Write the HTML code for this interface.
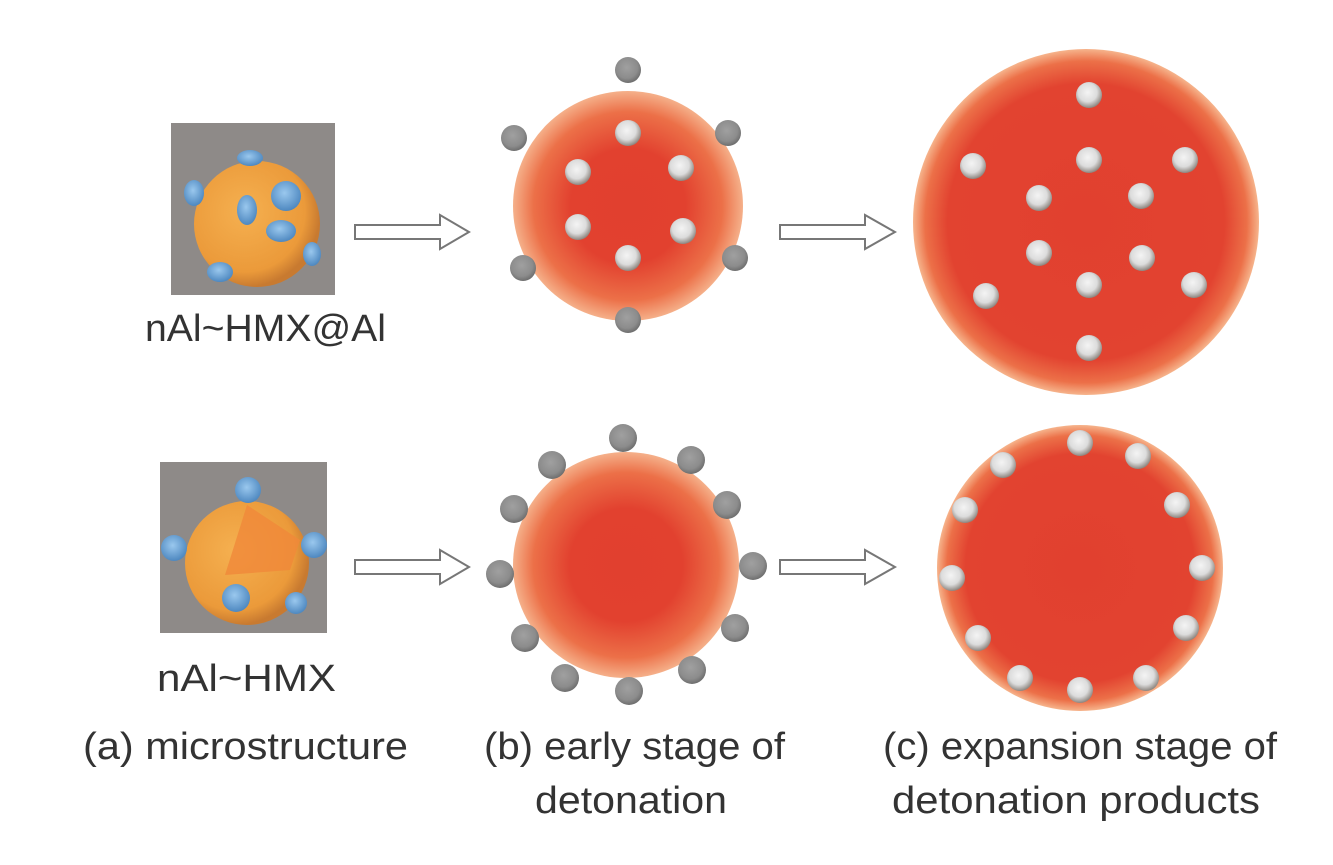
<!DOCTYPE html>
<html><head><meta charset="utf-8"><style>html,body{margin:0;padding:0;background:#fff}svg{display:block}</style></head><body>
<svg width="1333" height="865" viewBox="0 0 1333 865" xmlns="http://www.w3.org/2000/svg">
<defs>
<radialGradient id="rb" cx="50%" cy="50%" r="50%">
<stop offset="0" stop-color="#e1402f"/><stop offset="0.5" stop-color="#e2412f"/><stop offset="0.82" stop-color="#ec7048"/><stop offset="1" stop-color="#f5b08a"/>
</radialGradient>
<radialGradient id="rc" cx="50%" cy="50%" r="50%">
<stop offset="0" stop-color="#e1402f"/><stop offset="0.8" stop-color="#e24330"/><stop offset="0.93" stop-color="#ec7048"/><stop offset="1" stop-color="#f6b48c"/>
</radialGradient>
<radialGradient id="wp" cx="45%" cy="40%" r="60%">
<stop offset="0" stop-color="#f4f4f4"/><stop offset="0.6" stop-color="#dcdcdc"/><stop offset="1" stop-color="#8d8680"/>
</radialGradient>
<radialGradient id="gp" cx="45%" cy="40%" r="60%">
<stop offset="0" stop-color="#a0a0a0"/><stop offset="0.7" stop-color="#8c8c8c"/><stop offset="1" stop-color="#6e6e6e"/>
</radialGradient>
<radialGradient id="or" cx="40%" cy="40%" r="60%">
<stop offset="0" stop-color="#f5b050"/><stop offset="0.8" stop-color="#eb9a3a"/><stop offset="1" stop-color="#c87a30"/>
</radialGradient>
<radialGradient id="bl" cx="45%" cy="40%" r="60%">
<stop offset="0" stop-color="#9ac8ee"/><stop offset="1" stop-color="#4e88c0"/>
</radialGradient>
</defs>

<rect x="171" y="123" width="164" height="172" fill="#8e8a88"/>
<circle cx="257" cy="224" r="63" fill="url(#or)"/>
<g fill="url(#bl)">
<ellipse cx="250" cy="158" rx="13" ry="8"/>
<ellipse cx="194" cy="193" rx="10" ry="13"/>
<ellipse cx="286" cy="196" rx="15" ry="15"/>
<ellipse cx="247" cy="210" rx="10" ry="15"/>
<ellipse cx="281" cy="231" rx="15" ry="11"/>
<ellipse cx="312" cy="254" rx="9" ry="12"/>
<ellipse cx="220" cy="272" rx="13" ry="10"/>
</g>

<rect x="160" y="462" width="167" height="171" fill="#8e8a88"/>
<circle cx="247" cy="563" r="62" fill="url(#or)"/>
<polygon points="247,505 300,540 290,570 225,575" fill="#f0883a" opacity="0.8"/>
<g fill="url(#bl)">
<circle cx="248" cy="490" r="13"/>
<circle cx="174" cy="548" r="13"/>
<circle cx="314" cy="545" r="13"/>
<circle cx="236" cy="598" r="14"/>
<circle cx="296" cy="603" r="11"/>
</g>

<g fill="#fff" stroke="#777" stroke-width="2">
<polygon points="355,225 440,225 440,215 469,232 440,249 440,239 355,239"/>
<polygon points="780,225 865,225 865,215 895,232 865,249 865,239 780,239"/>
<polygon points="355,560 440,560 440,550 469,567 440,584 440,574 355,574"/>
<polygon points="780,560 865,560 865,550 895,567 865,584 865,574 780,574"/>
</g>

<circle cx="628" cy="206" r="115" fill="url(#rb)"/>
<circle cx="1086" cy="222" r="173" fill="url(#rc)"/>
<circle cx="626" cy="565" r="113" fill="url(#rb)"/>
<circle cx="1080" cy="568" r="143" fill="url(#rc)"/>

<g fill="url(#gp)">
<circle cx="628" cy="70" r="13"/><circle cx="514" cy="138" r="13"/><circle cx="728" cy="133" r="13"/>
<circle cx="523" cy="268" r="13"/><circle cx="735" cy="258" r="13"/><circle cx="628" cy="320" r="13"/>
</g>
<g fill="url(#wp)">
<circle cx="628" cy="133" r="13"/><circle cx="578" cy="172" r="13"/><circle cx="681" cy="168" r="13"/>
<circle cx="578" cy="227" r="13"/><circle cx="683" cy="231" r="13"/><circle cx="628" cy="258" r="13"/>
</g>
<g fill="url(#wp)">
<circle cx="1089" cy="95" r="13"/><circle cx="973" cy="166" r="13"/><circle cx="1089" cy="160" r="13"/>
<circle cx="1185" cy="160" r="13"/><circle cx="1039" cy="198" r="13"/><circle cx="1141" cy="196" r="13"/>
<circle cx="1039" cy="253" r="13"/><circle cx="1142" cy="258" r="13"/><circle cx="1089" cy="285" r="13"/>
<circle cx="986" cy="296" r="13"/><circle cx="1194" cy="285" r="13"/><circle cx="1089" cy="348" r="13"/>
</g>
<g fill="url(#gp)">
<circle cx="623" cy="438" r="14"/><circle cx="552" cy="465" r="14"/><circle cx="691" cy="460" r="14"/>
<circle cx="514" cy="509" r="14"/><circle cx="727" cy="505" r="14"/><circle cx="500" cy="574" r="14"/>
<circle cx="753" cy="566" r="14"/><circle cx="525" cy="638" r="14"/><circle cx="735" cy="628" r="14"/>
<circle cx="565" cy="678" r="14"/><circle cx="692" cy="670" r="14"/><circle cx="629" cy="691" r="14"/>
</g>
<g fill="url(#wp)">
<circle cx="1080" cy="443" r="13"/><circle cx="1003" cy="465" r="13"/><circle cx="1138" cy="456" r="13"/>
<circle cx="965" cy="510" r="13"/><circle cx="1177" cy="505" r="13"/><circle cx="952" cy="578" r="13"/>
<circle cx="1202" cy="568" r="13"/><circle cx="978" cy="638" r="13"/><circle cx="1186" cy="628" r="13"/>
<circle cx="1020" cy="678" r="13"/><circle cx="1080" cy="690" r="13"/><circle cx="1146" cy="678" r="13"/>
</g>

<g font-family="Liberation Sans, sans-serif" font-size="38" fill="#333">
<text x="145" y="341" textLength="241" lengthAdjust="spacingAndGlyphs">nAl~HMX@Al</text>
<text x="157" y="691" textLength="179" lengthAdjust="spacingAndGlyphs">nAl~HMX</text>
<text x="83" y="759" textLength="325" lengthAdjust="spacingAndGlyphs">(a) microstructure</text>
<text x="484" y="759" textLength="301" lengthAdjust="spacingAndGlyphs">(b) early stage of</text>
<text x="535" y="813" textLength="192" lengthAdjust="spacingAndGlyphs">detonation</text>
<text x="883" y="759" textLength="394" lengthAdjust="spacingAndGlyphs">(c) expansion stage of</text>
<text x="892" y="813" textLength="368" lengthAdjust="spacingAndGlyphs">detonation products</text>
</g>
</svg>
</body></html>
